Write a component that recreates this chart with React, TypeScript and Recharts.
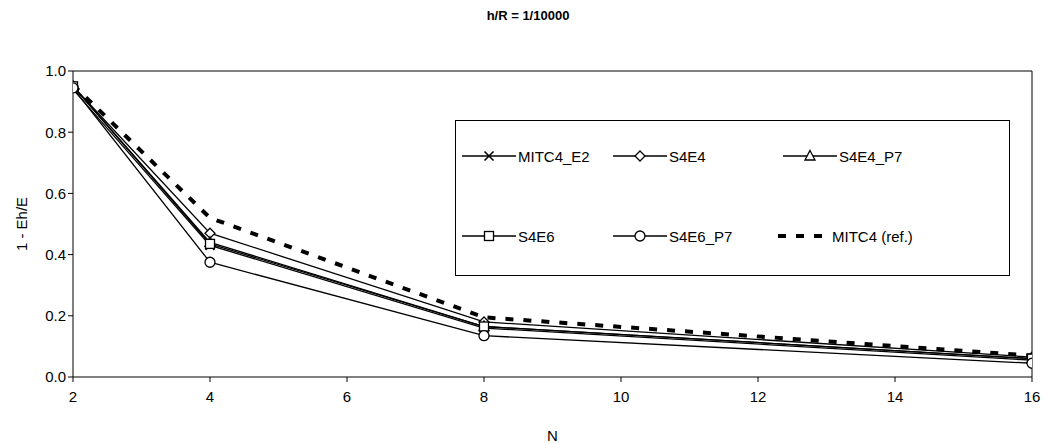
import { Label, Legend, Line, LineChart, ReferenceLine, XAxis, YAxis } from "recharts";

const nValues = [2, 4, 8, 16];
const mitc4E2 = [0.94, 0.43, 0.16, 0.055];
const s4e4 = [0.95, 0.47, 0.18, 0.065];
const s4e4P7 = [0.95, 0.44, 0.165, 0.06];
const s4e6 = [0.95, 0.435, 0.165, 0.06];
const s4e6P7 = [0.945, 0.375, 0.135, 0.045];
const mitc4Ref = [0.955, 0.52, 0.195, 0.07];

const xTicks = [2, 4, 6, 8, 10, 12, 14, 16];
const yTicks = [0, 0.2, 0.4, 0.6, 0.8, 1.0];

const rows = nValues.map((n, i) => ({
  N: n,
  MITC4_E2: mitc4E2[i],
  S4E4: s4e4[i],
  S4E4_P7: s4e4P7[i],
  S4E6: s4e6[i],
  S4E6_P7: s4e6P7[i],
  ref: mitc4Ref[i],
}));

type Shape = "cross" | "diamond" | "triangle" | "square" | "circle";

const FONT = '"Liberation Sans", Arial, sans-serif';
const SW = 1.3;

function marker(shape: Shape, cx: number, cy: number) {
  const common = { fill: "#fff", stroke: "#000", strokeWidth: SW };
  switch (shape) {
    case "cross":
      return (
        <g stroke="#000" strokeWidth={1.6}>
          <line x1={cx - 4.5} y1={cy - 4.5} x2={cx + 4.5} y2={cy + 4.5} />
          <line x1={cx - 4.5} y1={cy + 4.5} x2={cx + 4.5} y2={cy - 4.5} />
        </g>
      );
    case "diamond":
      return <polygon points={`${cx},${cy - 5} ${cx + 5},${cy} ${cx},${cy + 5} ${cx - 5},${cy}`} {...common} />;
    case "triangle":
      return <polygon points={`${cx},${cy - 5.5} ${cx + 5},${cy + 4} ${cx - 5},${cy + 4}`} {...common} />;
    case "square":
      return <rect x={cx - 4.5} y={cy - 4.5} width={9} height={9} {...common} />;
    default:
      return <circle cx={cx} cy={cy} r={5} {...common} />;
  }
}

const makeDot = (shape: Shape) => (props: any) => {
  const { cx, cy, index } = props;
  return <g key={`${shape}-${index}`}>{marker(shape, cx, cy)}</g>;
};

const legendItems: { label: string; shape: Shape | "dash"; left: number; top: number }[] = [
  { label: "MITC4_E2", shape: "cross", left: 6, top: 35 },
  { label: "S4E4", shape: "diamond", left: 157, top: 35 },
  { label: "S4E4_P7", shape: "triangle", left: 327, top: 35 },
  { label: "S4E6", shape: "square", left: 6, top: 115 },
  { label: "S4E6_P7", shape: "circle", left: 157, top: 115 },
  { label: "MITC4 (ref.)", shape: "dash", left: 320, top: 115 },
];

function LegendBox() {
  return (
    <div
      style={{
        position: "relative",
        width: 555,
        height: 156,
        border: "1.5px solid #000",
        boxSizing: "border-box",
        background: "#fff",
        fontFamily: FONT,
        fontSize: 15,
        color: "#000",
      }}
    >
      {legendItems.map((it) => (
        <div
          key={it.label}
          style={{ position: "absolute", left: it.left, top: it.top - 10, height: 20, display: "flex", alignItems: "center" }}
        >
          <svg width={54} height={20}>
            {it.shape === "dash" ? (
              <line x1={2} y1={10} x2={54} y2={10} stroke="#000" strokeWidth={4} strokeDasharray="8 10" />
            ) : (
              <>
                <line x1={0} y1={10} x2={54} y2={10} stroke="#000" strokeWidth={SW} />
                {marker(it.shape, 27, 10)}
              </>
            )}
          </svg>
          <span style={{ marginLeft: 2 }}>{it.label}</span>
        </div>
      ))}
    </div>
  );
}

export default function App() {
  return (
    <div style={{ position: "absolute", left: 0, top: 0, width: 1048, height: 443, background: "#fff" }}>
      <div
        style={{
          position: "absolute",
          left: 0,
          width: 1048,
          top: 8,
          textAlign: "center",
          fontFamily: FONT,
          fontWeight: "bold",
          fontSize: 13,
          paddingLeft: 4,
        }}
      >
        h/R = 1/10000
      </div>
      <LineChart width={1048} height={443} data={rows} margin={{ top: 71, right: 16, left: 0, bottom: 0 }}>
        <XAxis
          dataKey="N"
          type="number"
          domain={[2, 16]}
          ticks={xTicks}
          height={66}
          stroke="#000"
          tick={{ fill: "#000", fontSize: 15, fontFamily: FONT }}
          tickLine={{ stroke: "#000" }}
          tickSize={5}
          tickMargin={9}
          allowDataOverflow
        >
          <Label value="N" position="insideBottom" offset={2} style={{ fontFamily: FONT, fontSize: 15, fill: "#000" }} />
        </XAxis>
        <YAxis
          type="number"
          domain={[0, 1]}
          ticks={yTicks}
          width={73}
          stroke="#000"
          tick={{ fill: "#000", fontSize: 15, fontFamily: FONT }}
          tickLine={{ stroke: "#000" }}
          tickSize={5}
          tickFormatter={(v: number) => v.toFixed(1)}
        >
          <Label
            value="1 - Eh/E"
            angle={-90}
            position="insideLeft"
            offset={22}
            style={{ fontFamily: FONT, fontSize: 15, fill: "#000", textAnchor: "middle" }}
          />
        </YAxis>
        <ReferenceLine y={1} stroke="#000" strokeWidth={1} />
        <ReferenceLine x={16} stroke="#000" strokeWidth={1} />
        <Line dataKey="ref" stroke="#000" strokeWidth={4} strokeDasharray="8 10" dot={false} isAnimationActive={false} />
        <Line dataKey="MITC4_E2" stroke="#000" strokeWidth={SW} dot={makeDot("cross")} isAnimationActive={false} />
        <Line dataKey="S4E4" stroke="#000" strokeWidth={SW} dot={makeDot("diamond")} isAnimationActive={false} />
        <Line dataKey="S4E4_P7" stroke="#000" strokeWidth={SW} dot={makeDot("triangle")} isAnimationActive={false} />
        <Line dataKey="S4E6" stroke="#000" strokeWidth={SW} dot={makeDot("square")} isAnimationActive={false} />
        <Line dataKey="S4E6_P7" stroke="#000" strokeWidth={SW} dot={makeDot("circle")} isAnimationActive={false} />
        <Legend
          layout="vertical"
          align="center"
          verticalAlign="middle"
          content={() => <LegendBox />}
          wrapperStyle={{ position: "absolute", left: 455, top: 120, width: 555, height: 156 }}
        />
      </LineChart>
    </div>
  );
}
